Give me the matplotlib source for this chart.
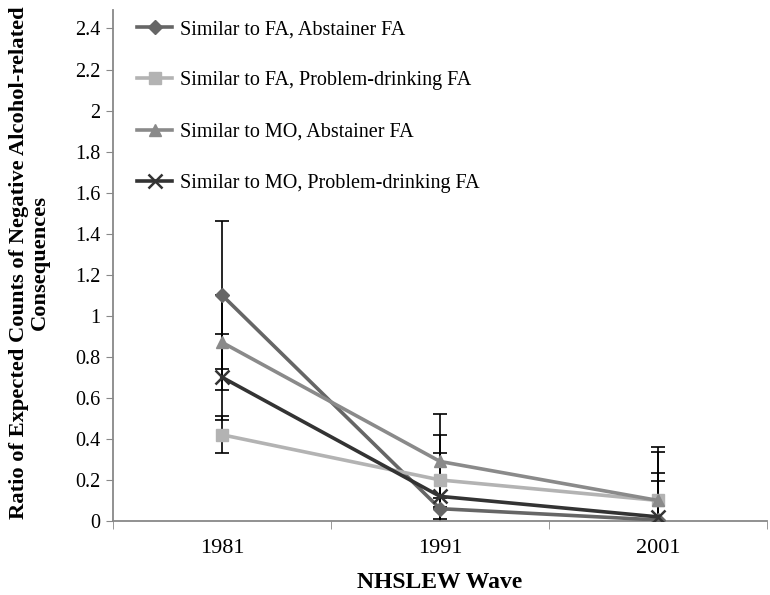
import matplotlib
matplotlib.use("Agg")
import matplotlib.pyplot as plt
import numpy as np

plt.rcParams['font.family'] = ['Liberation Serif', 'DejaVu Serif']

waves = ["1981", "1991", "2001"]
labels = ["Similar to FA, Abstainer FA",
          "Similar to FA, Problem-drinking FA",
          "Similar to MO, Abstainer FA",
          "Similar to MO, Problem-drinking FA"]
fa_abst = [1.10, 0.06, 0.005]
fa_prob = [0.42, 0.20, 0.10]
mo_abst = [0.87, 0.29, 0.10]
mo_prob = [0.70, 0.12, 0.02]
err_fa_abst = [0.36, 0.05, 0.19]
err_fa_prob = [0.09, 0.13, 0.235]
err_mo_abst = [0.23, 0.23, 0.26]
err_mo_prob = [0.21, 0.30, 0.215]

series = [fa_abst, fa_prob, mo_abst, mo_prob]
errs = [err_fa_abst, err_fa_prob, err_mo_abst, err_mo_prob]
colors = ["#666666", "#b3b3b3", "#8a8a8a", "#333333"]
markers = ["D", "s", "^", "x"]
msizes = [7, 9, 9, 10]

fig = plt.figure(figsize=(7.7, 5.95), dpi=100)
ax = fig.add_axes([0.147, 0.1244, 0.849, 0.8588])
x = np.arange(len(waves))

for vals, e in zip(series, errs):
    ax.errorbar(x, vals, yerr=e, fmt="none", ecolor="black", elinewidth=1.2,
                capsize=5, capthick=1.2, zorder=2)
for vals, lab, c, m, ms in zip(series, labels, colors, markers, msizes):
    ax.plot(x, vals, color=c, lw=2.6, marker=m, ms=ms, mew=1.8 if m == "x" else 1,
            mec=c, mfc=c, label=lab, zorder=3)

ax.set_xlim(-0.5, 2.5)
ax.set_ylim(0, 2.49)
ax.set_yticks(np.arange(0, 2.41, 0.2))
ax.set_yticklabels(["0"] + ["%g" % v for v in np.round(np.arange(0.2, 2.41, 0.2), 1)])
ax.set_xticks(x)
ax.set_xticklabels(waves)
ax.set_xticks([-0.5, 0.5, 1.5, 2.5], minor=True)
ax.tick_params(axis="x", which="major", length=0, labelsize=16, pad=13)
ax.tick_params(axis="x", which="minor", length=6, color="#888888", direction="out")
ax.tick_params(axis="y", length=5, color="#888888", direction="out", labelsize=14.5, pad=4)
for s in ["top", "right"]:
    ax.spines[s].set_visible(False)
for s in ["left", "bottom"]:
    ax.spines[s].set_color("#888888")
    ax.spines[s].set_linewidth(1.3)

ax.set_xlabel("NHSLEW Wave", fontsize=17, fontweight="bold", labelpad=10)
ax.set_ylabel("Ratio of Expected Counts of Negative Alcohol-related\nConsequences",
              fontsize=16.2, fontweight="bold", linespacing=1.08)
ax.yaxis.set_label_coords(-0.097, 0.505)

ax.legend(loc="upper left", bbox_to_anchor=(0.018, 1.004), frameon=False, fontsize=14.5,
          labelspacing=1.6, handlelength=1.75, handletextpad=0.4, borderaxespad=0.2)

fig.savefig("out.png", dpi=100)
